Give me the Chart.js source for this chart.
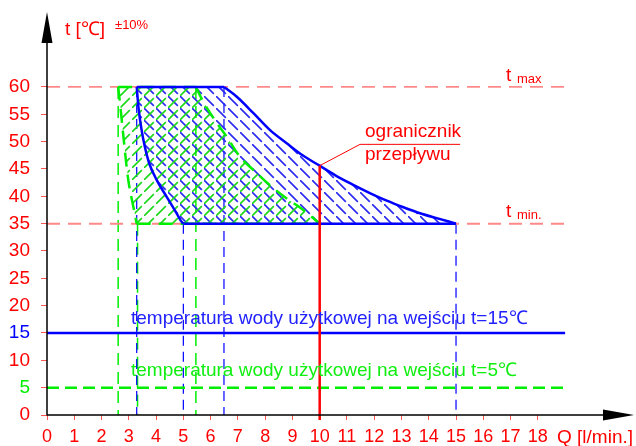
<!DOCTYPE html>
<html>
<head>
<meta charset="utf-8">
<script src="https://cdn.jsdelivr.net/npm/chart.js@4.4.1/dist/chart.umd.min.js"></script>
<style>
  html, body { margin: 0; padding: 0; background: #fff; }
  #wrap { width: 636px; height: 446px; }
</style>
</head>
<body>
<div id="wrap"><canvas id="chart"></canvas></div>
<script>
// --- data ---
const xTicks = [0, 1, 2, 3, 4, 5, 6, 7, 8, 9, 10, 11, 12, 13, 14, 15, 16, 17, 18]
const yTicks = [0, 5, 10, 15, 20, 25, 30, 35, 40, 45, 50, 55, 60]
const tMax = 60
const tMin = 35
const tIn15 = 15
const tIn5 = 5
const qLimit = 10
const qLimitT = 45.6
const qEnd = 19

// blue zone (inlet water 15 C)
const blueLeftQ = [3.29, 3.36, 3.47, 3.59, 3.75, 4.02, 4.39, 4.75, 4.90, 5.0]
const blueLeftT = [60, 56, 52.1, 49.0, 46, 43, 39.9, 36.9, 35.6, 35]
const blueRightQ = [6.49, 6.96, 7.57, 8.18, 8.79, 9.40, 10.0, 10.62, 11.23, 11.84, 12.46, 13.07, 13.68, 14.29, 15.0]
const blueRightT = [60, 58.2, 55.2, 52.1, 49.7, 47.4, 45.6, 43.7, 42.1, 40.6, 39.2, 38.0, 36.9, 36.0, 35]
const blueDropQ = [3.29, 5.0, 6.49, 15.0]
const blueDropT = [60, 35, 60, 35]

// green zone (inlet water 5 C)
const greenLeftQ = [2.61, 2.70, 2.78, 2.98, 3.15, 3.29]
const greenLeftT = [60, 56, 52, 43, 38.5, 35]
const greenRightQ = [5.46, 5.73, 6.16, 6.59, 7.08, 7.57, 8.18, 8.79, 9.4, 10.0]
const greenRightT = [60, 57.3, 53.9, 50.9, 47.2, 44.8, 42.0, 39.6, 37.5, 35]
const greenDropQ = [2.61, 3.32, 5.46]
const greenDropT = [60, 35, 60]

const FONT = '"Liberation Sans", Arial, sans-serif'
const BLUE = '#00f'
const GREEN = '#0e0'

const pts = (qs, ts) => qs.map((q, i) => ({ x: q, y: ts[i] }))

function hatch(color, rising, size, width) {
  const c = document.createElement('canvas')
  c.width = c.height = size
  const g = c.getContext('2d')
  g.strokeStyle = color
  g.lineWidth = width
  g.beginPath()
  if (rising) { g.moveTo(0, size); g.lineTo(size * 0.82, size * 0.18) }
  else { g.moveTo(0, 0); g.lineTo(size * 0.82, size * 0.82) }
  g.stroke()
  return g.createPattern(c, 'repeat')
}

function line(data, color, width, dash, extra) {
  return Object.assign({
    data, borderColor: color, borderWidth: width, borderDash: dash || [],
    pointRadius: 0, showLine: true, fill: false, tension: 0
  }, extra || {})
}

function zone(leftQ, leftT, rightQ, rightT) {
  const poly = [...pts(rightQ, rightT), ...pts(leftQ, leftT).reverse()]
  poly.push(poly[0])
  return poly
}

const curve = { cubicInterpolationMode: 'monotone' }

const datasets = [
  // limiter
  line([{ x: qLimit, y: qLimitT }, { x: qLimit, y: -0.9 }], '#f00', 2.5),
  line([{ x: qLimit, y: qLimitT }, { x: 11.48, y: 49.5 }, { x: 15.15, y: 49.5 }], '#f00', 1),
  // blue zone outline
  line(pts(blueLeftQ, blueLeftT), BLUE, 2.5, [], curve),
  line(pts(blueRightQ, blueRightT), BLUE, 2.5, [], curve),
  line([{ x: blueLeftQ[0], y: tMax }, { x: blueRightQ[0], y: tMax }], BLUE, 2.5),
  line([{ x: 5.0, y: tMin }, { x: 15.0, y: tMin }], BLUE, 2.5),
  // green zone outline
  line(pts(greenLeftQ, greenLeftT), GREEN, 2.5, [14, 8], curve),
  line(pts(greenRightQ, greenRightT), GREEN, 2.5, [14, 8], curve),
  line([{ x: greenLeftQ[0], y: tMax }, { x: greenRightQ[0], y: tMax }], GREEN, 2.5, [14, 8]),
  line([{ x: 3.29, y: tMin }, { x: 10.0, y: tMin }], GREEN, 2.5, [14, 8]),
  // hatched zones
  line(zone(greenLeftQ, greenLeftT, greenRightQ, greenRightT), 'rgba(0,0,0,0)', 0, [],
    { fill: 'shape', backgroundColor: hatch('#1ad81a', true, 12, 1.6) }),
  line(zone(blueLeftQ, blueLeftT, blueRightQ, blueRightT), 'rgba(0,0,0,0)', 0, [],
    { fill: 'shape', backgroundColor: hatch('#2a2af0', false, 12, 1.6) }),
  // inlet temperatures
  line([{ x: 0, y: tIn15 }, { x: qEnd, y: tIn15 }], BLUE, 2.5),
  line([{ x: 0, y: tIn5 }, { x: qEnd, y: tIn5 }], GREEN, 2.5, [12, 6]),
  // t max / t min
  line([{ x: 0, y: tMax }, { x: 19.2, y: tMax }], '#f33', 1, [13, 8]),
  line([{ x: 0, y: tMin }, { x: 19.2, y: tMin }], '#f88', 2, [13, 8]),
]
blueDropQ.forEach((q, i) => datasets.push(line([{ x: q, y: blueDropT[i] }, { x: q, y: 0 }], BLUE, 1.2, [10, 6])))
greenDropQ.forEach((q, i) => datasets.push(line([{ x: q, y: greenDropT[i] }, { x: q, y: 0 }], GREEN, 1.5, [12, 7])))

// axes with arrows and the free texts
const decor = {
  id: 'decor',
  afterDraw(chart) {
    const { ctx, scales: { x, y } } = chart
    const x0 = x.getPixelForValue(0), y0 = y.getPixelForValue(0)
    ctx.save()
    ctx.strokeStyle = '#000'
    ctx.fillStyle = '#000'
    ctx.lineWidth = 1.5
    ctx.beginPath()
    ctx.moveTo(x0, y0 + 0.5); ctx.lineTo(x0, 40)
    ctx.moveTo(x0, y0); ctx.lineTo(605, y0)
    ctx.stroke()
    ctx.beginPath()
    ctx.moveTo(x0, 12); ctx.lineTo(x0 - 5.5, 43); ctx.lineTo(x0 + 5.5, 43); ctx.closePath()
    ctx.moveTo(634, y0); ctx.lineTo(603, y0 - 5.5); ctx.lineTo(603, y0 + 5.5); ctx.closePath()
    ctx.fill()

    ctx.textBaseline = 'alphabetic'
    ctx.textAlign = 'left'
    ctx.fillStyle = '#f00'
    ctx.font = '19px ' + FONT
    ctx.fillText('t [℃]', 65, 35)
    ctx.fillText('Q [l/min.]', 557, 443)
    ctx.fillText('t', 506, 80.5)
    ctx.fillText('t', 506, 216.5)
    ctx.fillText('ogranicznik', 365, 136.5)
    ctx.fillText('przepływu', 365, 160)
    ctx.font = '13px ' + FONT
    ctx.fillText('±10%', 115, 29)
    ctx.fillText('max', 517, 82.5)
    ctx.fillText('min.', 517, 219)
    ctx.font = '19px ' + FONT
    ctx.fillStyle = '#22f'
    ctx.fillText('temperatura wody użytkowej na wejściu t=15℃', 131, 324)
    ctx.fillStyle = '#1e1'
    ctx.fillText('temperatura wody użytkowej na wejściu t=5℃', 131, 376)
    ctx.restore()
  }
}

new Chart(document.getElementById('chart'), {
  type: 'scatter',
  data: { datasets },
  options: {
    animation: false,
    responsive: true,
    maintainAspectRatio: false,
    clip: false,
    layout: { padding: 0 },
    plugins: { legend: { display: false }, tooltip: { enabled: false } },
    scales: {
      x: {
        type: 'linear', min: 0, max: 21.6,
        afterFit(s) { s.height = 31; s.paddingLeft = 0; s.paddingRight = 0 },
        afterBuildTicks(s) { s.ticks = xTicks.map(v => ({ value: v })) },
        grid: { drawOnChartArea: false, tickLength: 5, color: '#f55' },
        border: { display: false },
        ticks: { color: '#f00', font: { size: 18, family: FONT }, padding: 6, autoSkip: false, maxRotation: 0 }
      },
      y: {
        type: 'linear', min: 0, max: 75.9,
        afterFit(s) { s.width = 47; s.paddingTop = 0; s.paddingBottom = 0 },
        afterBuildTicks(s) { s.ticks = yTicks.map(v => ({ value: v })) },
        grid: { drawOnChartArea: false, tickLength: 6, color: '#f55' },
        border: { display: false },
        ticks: {
          font: { size: 19, family: FONT }, padding: 11,
          color: (c) => c.tick.value === tIn5 ? GREEN : c.tick.value === tIn15 ? BLUE : '#f00'
        }
      }
    }
  },
  plugins: [decor]
})
</script>
</body>
</html>
